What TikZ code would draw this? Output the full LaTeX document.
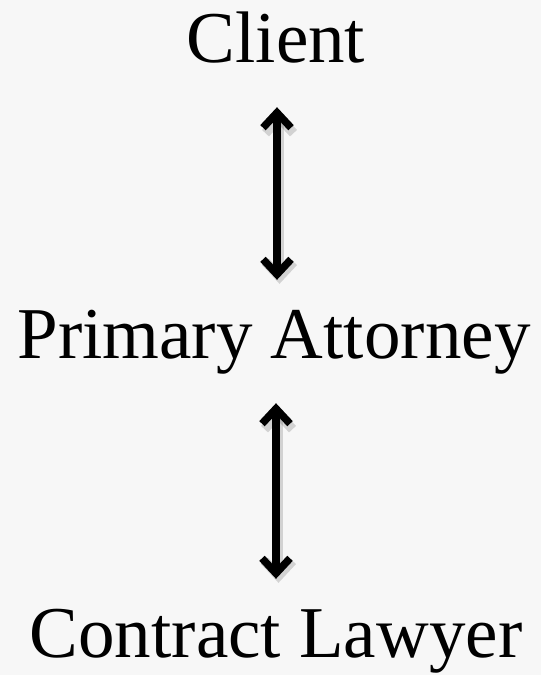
\documentclass[tikz,border=0pt]{standalone}
\usepackage{fontspec}
\setmainfont{Liberation Serif}
\usetikzlibrary{arrows.meta,positioning}
\definecolor{bgA}{RGB}{247,247,247}

\begin{document}
\begin{tikzpicture}[
    x=1pt, y=1pt,
    role/.style={inner sep=0pt,anchor=base,text height=50pt,text depth=16pt,font=\fontsize{73}{73}\selectfont},
    link/.style={{Straight Barb[length=15pt,width=28pt]}-{Straight Barb[length=15pt,width=28pt]},line width=7.5pt,shorten <=29pt,shorten >=28pt},
    linkshadow/.style={link,line width=9.5pt,black,opacity=0.15,transform canvas={shift={(2.5pt,-4pt)}}}
  ]
  \fill[bgA] (0,0) rectangle (541,-675);
  \useasboundingbox (0,0) rectangle (541,-675);
  \node[role] (client) at (276,-62) {Client};
  \node[role] (primary) at (274,-358) {Primary Attorney};
  \node[role] (contract) at (276,-657) {Contract Lawyer};
  \draw[linkshadow] (client.south -| 277,0) -- (primary.north -| 277,0);
  \draw[linkshadow] (primary.south -| 276,0) -- (contract.north -| 276,0);
  \draw[link] (client.south -| 277,0) -- (primary.north -| 277,0);
  \draw[link] (primary.south -| 276,0) -- (contract.north -| 276,0);
\end{tikzpicture}
\end{document}
